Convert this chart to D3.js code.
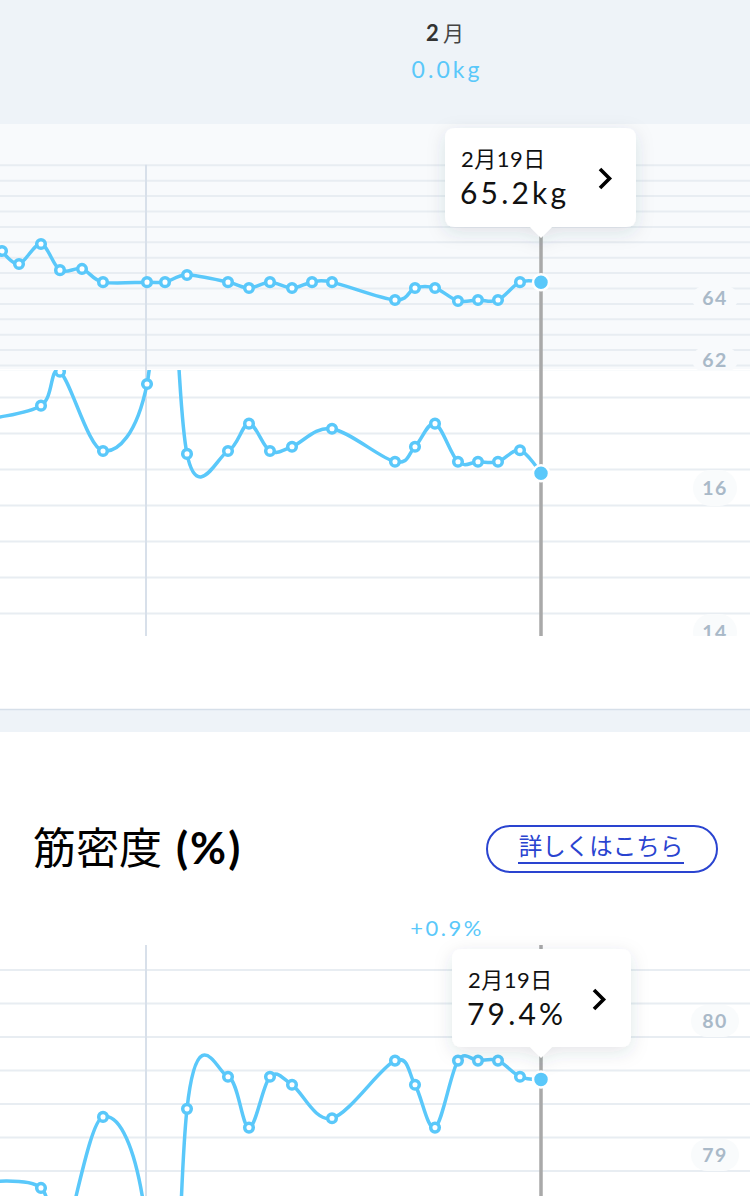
<!DOCTYPE html>
<html>
<head>
<meta charset="utf-8">
<script src="https://cdn.jsdelivr.net/npm/d3@7"></script>
<style>
  body { margin: 0; background: #fff; }
  svg { display: block; }
</style>
</head>
<body>
<svg></svg>
<script>
// ---- data ----
const weightDates = [
  '2019-01-25T02:40', '2019-01-25T22:10', '2019-01-26T23:25', '2019-01-27T21:15',
  '2019-01-28T22:30', '2019-01-29T22:38', '2019-02-01T01:10', '2019-02-01T21:50',
  '2019-02-02T23:05', '2019-02-04T22:10', '2019-02-05T22:16', '2019-02-06T22:23',
  '2019-02-07T23:40', '2019-02-08T22:38', '2019-02-09T21:36', '2019-02-12T21:56',
  '2019-02-13T20:54', '2019-02-14T19:52', '2019-02-15T22:16', '2019-02-16T21:14',
  '2019-02-17T20:12', '2019-02-18T21:29', '2019-02-19T21:36'
];
const weightValues = [
  65.20, 64.78, 65.43, 64.58, 64.62, 64.19, 64.19, 64.19, 64.42, 64.19, 64.00, 64.19,
  64.00, 64.19, 64.19, 63.61, 64.00, 64.00, 63.58, 63.61, 63.61, 64.19, 64.19
];

// body fat and muscle share the same measurement dates
const compDates = [
  '2019-01-24T02:30', '2019-01-26T23:25', '2019-01-27T21:15', '2019-01-29T22:38',
  '2019-02-01T01:10', '2019-02-01T21:50', '2019-02-02T23:05', '2019-02-04T22:10',
  '2019-02-05T22:16', '2019-02-06T22:23', '2019-02-07T23:40', '2019-02-09T21:36',
  '2019-02-12T21:56', '2019-02-13T20:54', '2019-02-14T19:52', '2019-02-15T22:16',
  '2019-02-16T21:14', '2019-02-17T20:12', '2019-02-18T21:29', '2019-02-19T21:36'
];
const fatValues = [
  16.68, 16.88, 17.35, 16.25, 17.18, 20.50, 16.21, 16.25, 16.63, 16.25,
  16.31, 16.56, 16.10, 16.31, 16.63, 16.10, 16.10, 16.10, 16.26, 15.94
];
const muscleValues = [
  78.66, 78.62, 78.16, 79.15, 78.31, 75.17, 79.21, 79.45, 79.07, 79.45,
  79.39, 79.14, 79.57, 79.39, 79.07, 79.57, 79.57, 79.57, 79.45, 79.43
];

const weightTicks = [64, 62];
const fatTicks = [16, 14];
const muscleTicks = [80, 79];
const monthStart = '2019-02-01T00:00';
const selectedDate = '2019-02-19T21:36';

const headerMonth = ['2', '月'];
const headerDelta = '0.0kg';
const weightTip = ['2月19日', '65.2kg'];
const muscleTitle = ['筋密度', '(%)'];
const muscleButton = '詳しくはこちら';
const muscleDelta = '+0.9%';
const muscleTip = ['2月19日', '79.4%'];

// ---- setup ----
const W = 750, H = 1196;
const BLUE = '#5ac8fa';
const LATIN = "Lato, 'Noto Sans CJK JP', sans-serif";
const CJK = "'Noto Sans CJK JP', sans-serif";
const parse = d3.timeParse('%Y-%m-%dT%H:%M');

const svg = d3.select('svg').attr('width', W).attr('height', H);
const defs = svg.append('defs');

const shadow = defs.append('filter').attr('id', 'shadow')
    .attr('x', '-40%').attr('y', '-40%').attr('width', '180%').attr('height', '200%');
shadow.append('feDropShadow')
    .attr('dx', 0).attr('dy', 5).attr('stdDeviation', 9)
    .attr('flood-color', '#3a4a5c').attr('flood-opacity', 0.13);

function clip(id, y0, y1) {
  defs.append('clipPath').attr('id', id)
    .append('rect').attr('x', 0).attr('y', y0).attr('width', W).attr('height', y1 - y0);
}
clip('clipWeight', 124, 370);
clip('clipFat', 370, 636);
clip('clipMuscle', 940, H);

// shared time axis (one day ~ 21px)
const x = d3.scaleTime()
    .domain([parse(monthStart), parse(selectedDate)])
    .range([146, 541]);

const weightY = d3.scaleLinear().domain([62, 64]).range([349.6, 288]);
const fatY = d3.scaleLinear().domain([14, 16]).range([613, 469]);
const muscleY = d3.scaleLinear().domain([79, 80]).range([1137, 1003]);

const weightData = weightDates.map((d, i) => ({ date: parse(d), v: weightValues[i] }));
const fatData = compDates.map((d, i) => ({ date: parse(d), v: fatValues[i] }));
const muscleData = compDates.map((d, i) => ({ date: parse(d), v: muscleValues[i] }));

// ---- backgrounds ----
svg.append('rect').attr('width', W).attr('height', H).attr('fill', '#fff');
svg.append('rect').attr('width', W).attr('height', 124).attr('fill', '#eef3f8');
svg.append('rect').attr('y', 710).attr('width', W).attr('height', 22).attr('fill', '#eef3f8');
svg.append('line').attr('x1', 0).attr('x2', W).attr('y1', 709.5).attr('y2', 709.5)
    .attr('stroke', '#d6dfe9').attr('stroke-width', 1.5);

// ---- header ----
const month = svg.append('text').attr('x', 445).attr('y', 41)
    .attr('text-anchor', 'middle').style('font-family', LATIN).style('font-size', '22px');
month.append('tspan').text(headerMonth[0]).attr('font-weight', 700).attr('fill', '#333');
month.append('tspan').text(headerMonth[1]).attr('fill', '#444').attr('dx', 4)
    .style('font-family', CJK).style('font-size', '21px');
svg.append('text').attr('x', 447).attr('y', 78).attr('text-anchor', 'middle')
    .style('font-family', LATIN).style('font-size', '23px').style('letter-spacing', '3px')
    .attr('fill', BLUE).text(headerDelta);

// ---- helpers ----
function gridLines(g, y, values) {
  g.append('g')
      .call(d3.axisRight(y).tickValues(values).tickSize(W).tickFormat(''))
      .call(a => a.select('.domain').remove())
      .call(a => a.selectAll('.tick line').attr('stroke', '#e8edf2').attr('stroke-width', 2));
}

function tickLabels(g, y, values, offset, pillFill, pw, ph) {
  const t = g.append('g').selectAll('g').data(values).join('g')
      .attr('transform', d => `translate(715,${y(d) + offset})`);
  t.append('rect').attr('x', -pw / 2).attr('y', -ph / 2).attr('width', pw).attr('height', ph)
      .attr('rx', ph / 2).attr('fill', pillFill);
  t.append('text').attr('text-anchor', 'middle').attr('dy', '0.36em')
      .style('font-family', LATIN).style('font-size', '19.5px').style('font-weight', 700)
      .style('letter-spacing', '1.5px').attr('fill', '#a9b9c8').text(d => d);
}

function vLines(g, y0, y1, selTop) {
  g.append('line').attr('x1', x(parse(monthStart))).attr('x2', x(parse(monthStart)))
      .attr('y1', y0).attr('y2', y1).attr('stroke', '#d8e0ea').attr('stroke-width', 2);
  g.append('line').attr('x1', x(parse(selectedDate))).attr('x2', x(parse(selectedDate)))
      .attr('y1', selTop).attr('y2', y1).attr('stroke', '#a9a9a9').attr('stroke-width', 3.5);
}

function series(g, data, y) {
  const line = d3.line().x(d => x(d.date)).y(d => y(d.v)).curve(d3.curveCardinal);
  g.append('path').datum(data).attr('d', line)
      .attr('fill', 'none').attr('stroke', BLUE).attr('stroke-width', 3.5)
      .attr('stroke-linejoin', 'round');
  g.append('g').selectAll('circle').data(data.slice(0, -1)).join('circle')
      .attr('cx', d => x(d.date)).attr('cy', d => y(d.v)).attr('r', 4.3)
      .attr('fill', '#fff').attr('stroke', BLUE).attr('stroke-width', 3.5);
  const last = data[data.length - 1];
  g.append('circle').attr('cx', x(last.date)).attr('cy', y(last.v)).attr('r', 8)
      .attr('fill', BLUE).attr('stroke', '#fff').attr('stroke-width', 2.5);
}

function tooltip(box, lines, chevron) {
  const cx = x(parse(selectedDate));
  const g = svg.append('g');
  g.append('path')
      .attr('d', `M${box.x0 + 10},${box.y0} H${box.x1 - 10} Q${box.x1},${box.y0} ${box.x1},${box.y0 + 10}
                  V${box.y1 - 10} Q${box.x1},${box.y1} ${box.x1 - 10},${box.y1}
                  H${cx + 11} L${cx},${box.y1 + 11} L${cx - 11},${box.y1}
                  H${box.x0 + 10} Q${box.x0},${box.y1} ${box.x0},${box.y1 - 10}
                  V${box.y0 + 10} Q${box.x0},${box.y0} ${box.x0 + 10},${box.y0} Z`)
      .attr('fill', '#fff').attr('filter', 'url(#shadow)');
  g.append('text').attr('x', box.x0 + 16).attr('y', box.y0 + 39)
      .style('font-family', LATIN).style('font-size', '22px').style('letter-spacing', '0.5px')
      .attr('fill', '#111').text(lines[0]);
  g.append('text').attr('x', box.x0 + 15).attr('y', box.y0 + 76)
      .style('font-family', LATIN).style('font-size', '30px').style('letter-spacing', '3.2px')
      .attr('fill', '#111').text(lines[1]);
  g.append('path')
      .attr('d', `M${chevron[0]},${chevron[1]} l9.5,9.5 l-9.5,9.5`)
      .attr('fill', 'none').attr('stroke', '#000').attr('stroke-width', 3.6);
}

// ---- body fat chart (drawn under the weight panel) ----
const fatG = svg.append('g').attr('clip-path', 'url(#clipFat)');
gridLines(fatG, fatY, d3.range(14, 17.51, 0.5));
fatG.append('line').attr('x1', 0).attr('x2', W).attr('y1', 369.5).attr('y2', 369.5)
    .attr('stroke', '#e8edf2').attr('stroke-width', 1.5);
vLines(fatG, 370, 636, 370);
tickLabels(fatG, fatY, fatTicks, 19, '#f9fbfc', 44, 36);
series(fatG, fatData, fatY);

// ---- weight chart panel ----
const wG = svg.append('g').attr('clip-path', 'url(#clipWeight)');
wG.append('rect').attr('y', 124).attr('width', W).attr('height', 245).attr('fill', '#f8fafc');
gridLines(wG, weightY, d3.range(61.5, 68.01, 0.5));
vLines(wG, weightY(68), 370, 230);
tickLabels(wG, weightY, weightTicks, 10, '#f8fafc', 46, 24);
series(wG, weightData, weightY);

tooltip({ x0: 445, x1: 636, y0: 128, y1: 227 }, weightTip, [600, 169]);

// ---- muscle section ----
const title = svg.append('text').attr('x', 33).attr('y', 864).attr('fill', '#000');
title.append('tspan').text(muscleTitle[0]).style('font-family', CJK).style('font-size', '43px');
title.append('tspan').text(muscleTitle[1]).attr('dx', 14).style('font-family', LATIN)
    .style('font-size', '44px').style('font-weight', 700).style('letter-spacing', '2px');

svg.append('rect').attr('x', 487).attr('y', 826).attr('width', 230).attr('height', 46)
    .attr('rx', 23).attr('fill', '#fff').attr('stroke', '#2a44d0').attr('stroke-width', 2);
svg.append('text').attr('x', 601).attr('y', 855).attr('text-anchor', 'middle')
    .style('font-family', CJK).style('font-size', '23.5px').attr('fill', '#2a44d0')
    .text(muscleButton);
svg.append('line').attr('x1', 518).attr('x2', 684).attr('y1', 863).attr('y2', 863)
    .attr('stroke', '#2a44d0').attr('stroke-width', 2);

svg.append('text').attr('x', 447).attr('y', 936).attr('text-anchor', 'middle')
    .style('font-family', LATIN).style('font-size', '22px').style('letter-spacing', '2.5px')
    .attr('fill', BLUE).text(muscleDelta);

const mG = svg.append('g').attr('clip-path', 'url(#clipMuscle)');
gridLines(mG, muscleY, d3.range(78.5, 80.26, 0.25));
vLines(mG, 945, H, 945);
tickLabels(mG, muscleY, muscleTicks, 18, '#f9fbfc', 48, 32);
series(mG, muscleData, muscleY);

tooltip({ x0: 452, x1: 631, y0: 949, y1: 1047 }, muscleTip, [594, 990]);
</script>
</body>
</html>
